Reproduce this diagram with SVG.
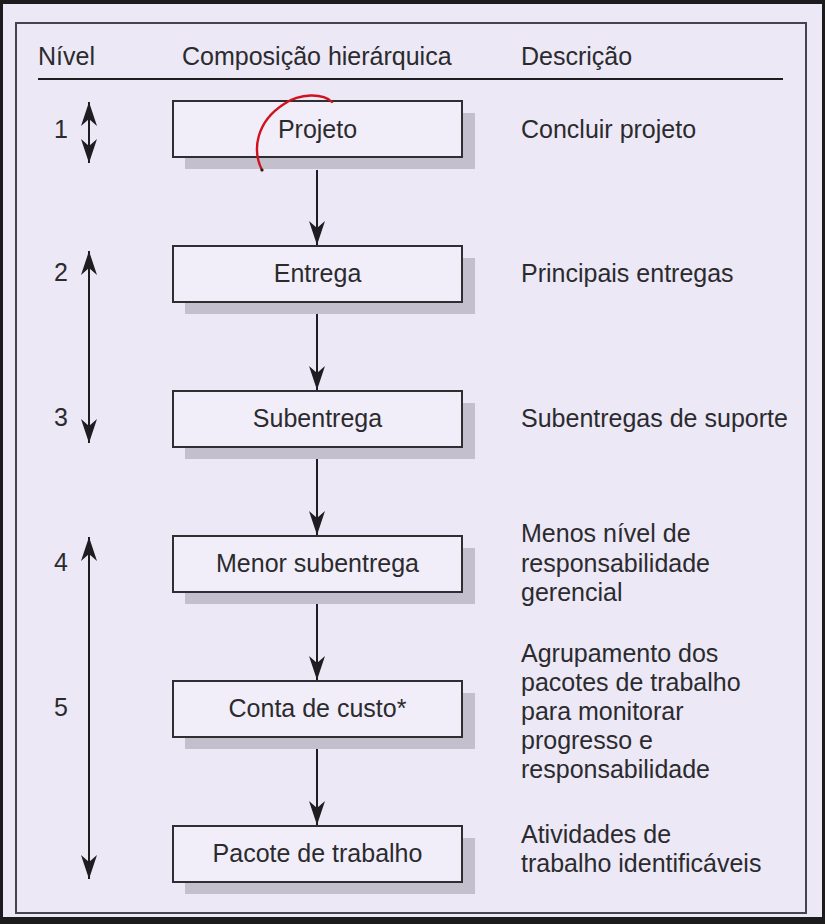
<svg xmlns="http://www.w3.org/2000/svg" width="825" height="924" viewBox="0 0 825 924">
<defs>
<style>
text{font-family:"Liberation Sans",Arial,sans-serif;fill:#2b2b2e;font-size:25px}
.box{fill:#f1eefa;stroke:#2e2e33;stroke-width:2}
.sh{fill:#c3bfcd}
.bt{text-anchor:middle}
.ln{stroke:#1e1e22;stroke-width:2;fill:none}
</style>
<marker id="ah" viewBox="-25 -9 27 18" refX="0" refY="0" markerWidth="27" markerHeight="18" markerUnits="userSpaceOnUse" orient="auto-start-reverse">
<path d="M0,0 L-24,-8 L-17,0 L-24,8 z" fill="#1e1e22"/>
</marker>
</defs>
<rect x="0" y="0" width="825" height="924" fill="#1c1c1e"/>
<rect x="3" y="4" width="819" height="913" fill="#ece8f6"/>
<rect x="16" y="23" width="790" height="890" fill="none" stroke="#45434c" stroke-width="2"/>

<g id="header">
<text x="38" y="65">Nível</text>
<text x="182" y="65">Composição hierárquica</text>
<text x="521" y="65">Descrição</text>
<line x1="38" y1="79" x2="783" y2="79" stroke="#1e1e22" stroke-width="2"/>
</g>

<g id="levels">
<text x="54" y="138">1</text>
<text x="54" y="281">2</text>
<text x="54" y="426">3</text>
<text x="54" y="571">4</text>
<text x="54" y="716">5</text>
</g>

<g id="level-arrows">
<line class="ln" x1="89" y1="102" x2="89" y2="163" marker-start="url(#ah)" marker-end="url(#ah)"/>
<line class="ln" x1="89" y1="251" x2="89" y2="443" marker-start="url(#ah)" marker-end="url(#ah)"/>
<line class="ln" x1="89" y1="537" x2="89" y2="879" marker-start="url(#ah)" marker-end="url(#ah)"/>
</g>

<g id="connectors">
<line class="ln" x1="317" y1="170" x2="317" y2="245" marker-end="url(#ah)"/>
<line class="ln" x1="317" y1="303" x2="317" y2="390" marker-end="url(#ah)"/>
<line class="ln" x1="317" y1="448" x2="317" y2="535" marker-end="url(#ah)"/>
<line class="ln" x1="317" y1="593" x2="317" y2="680" marker-end="url(#ah)"/>
<line class="ln" x1="317" y1="738" x2="317" y2="825" marker-end="url(#ah)"/>
</g>

<g id="n1">
<rect class="sh" x="185" y="113" width="290" height="56"/>
<rect class="box" x="173" y="101" width="289" height="56"/>
<text class="bt" x="317.5" y="138">Projeto</text>
</g>
<g id="n2">
<rect class="sh" x="185" y="258" width="290" height="56"/>
<rect class="box" x="173" y="246" width="289" height="56"/>
<text class="bt" x="317.5" y="282">Entrega</text>
</g>
<g id="n3">
<rect class="sh" x="185" y="403" width="290" height="56"/>
<rect class="box" x="173" y="391" width="289" height="56"/>
<text class="bt" x="317.5" y="427">Subentrega</text>
</g>
<g id="n4">
<rect class="sh" x="185" y="548" width="290" height="56"/>
<rect class="box" x="173" y="536" width="289" height="56"/>
<text class="bt" x="317.5" y="572">Menor subentrega</text>
</g>
<g id="n5">
<rect class="sh" x="185" y="693" width="290" height="56"/>
<rect class="box" x="173" y="681" width="289" height="56"/>
<text class="bt" x="317.5" y="717">Conta de custo*</text>
</g>
<g id="n6">
<rect class="sh" x="185" y="838" width="290" height="56"/>
<rect class="box" x="173" y="826" width="289" height="56"/>
<text class="bt" x="317.5" y="862">Pacote de trabalho</text>
</g>

<g id="descriptions">
<text x="521" y="138">Concluir projeto</text>
<text x="521" y="282">Principais entregas</text>
<text x="521" y="427">Subentregas de suporte</text>
<text x="521" y="542">Menos nível de</text>
<text x="521" y="572">responsabilidade</text>
<text x="521" y="601">gerencial</text>
<text x="521" y="662">Agrupamento dos</text>
<text x="521" y="691">pacotes de trabalho</text>
<text x="521" y="720">para monitorar</text>
<text x="521" y="749">progresso e</text>
<text x="521" y="778">responsabilidade</text>
<text x="521" y="843">Atividades de</text>
<text x="521" y="872">trabalho identificáveis</text>
</g>

<g id="annotation">
<path d="M262,170 C252,150 256,122 284,104 C300,93 323,93 332,102" fill="none" stroke="#d0121e" stroke-width="2.4" stroke-linecap="round"/>
<circle cx="262" cy="170" r="1.6" fill="#222"/>
</g>
</svg>
